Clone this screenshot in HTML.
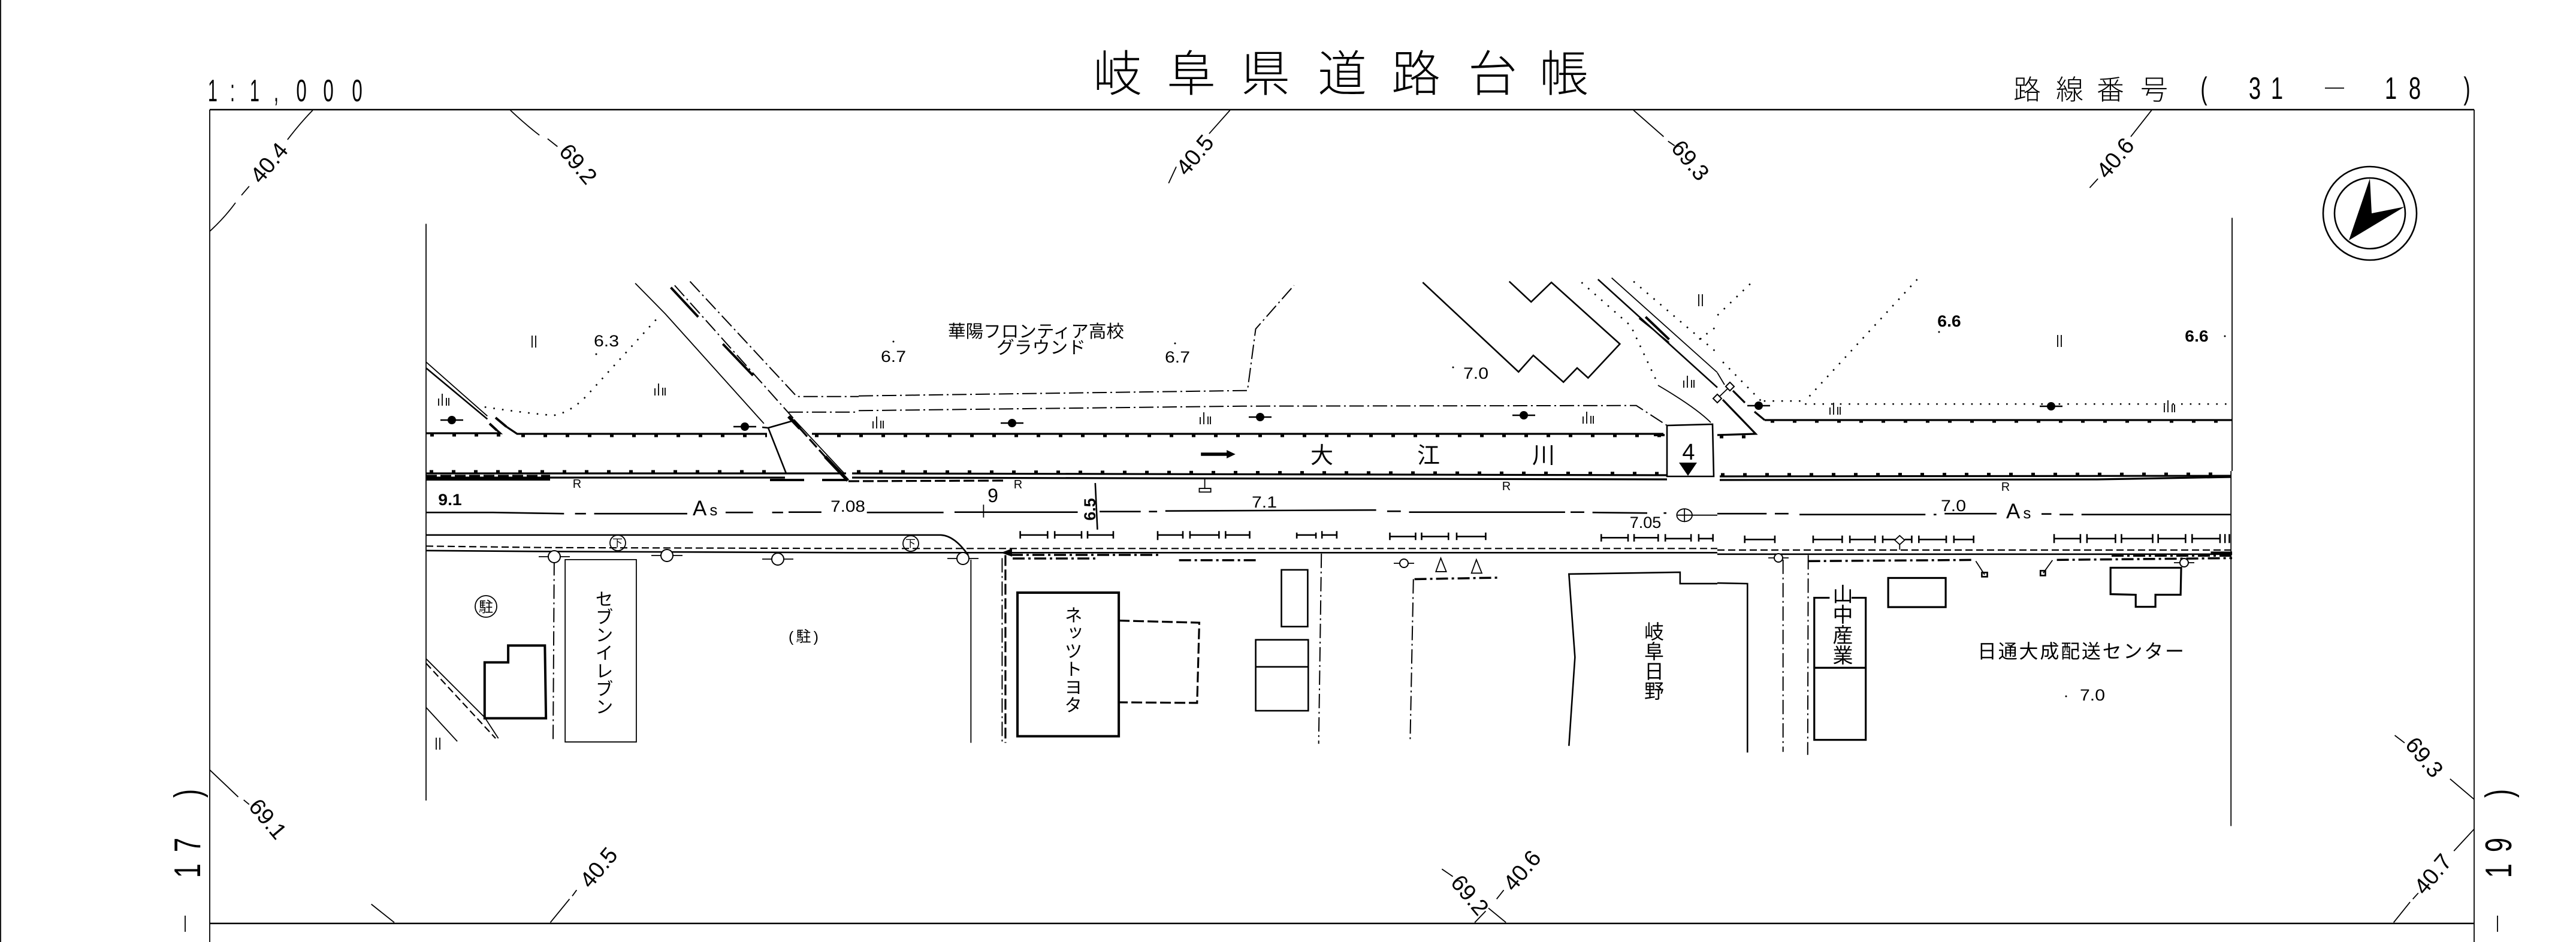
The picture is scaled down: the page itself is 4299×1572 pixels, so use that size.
<!DOCTYPE html>
<html><head><meta charset="utf-8"><title>岐阜県道路台帳</title>
<style>
html,body{margin:0;padding:0;background:#fff;width:4299px;height:1572px;overflow:hidden}
svg{display:block}
svg *{vector-effect:non-scaling-stroke}
.t{fill:none;stroke:#000;stroke-width:1.8}
.m{fill:none;stroke:#000;stroke-width:2.6}
.b{fill:none;stroke:#000;stroke-width:3.2}
.k{fill:none;stroke:#000;stroke-width:4}
.x{fill:none;stroke:#000;stroke-width:5.5}
.dd{fill:none;stroke:#000;stroke-width:2;stroke-dasharray:24 6 3 6}
.ddk{fill:none;stroke:#000;stroke-width:3.5;stroke-dasharray:20 6 4 6}
.da{fill:none;stroke:#000;stroke-width:2.2;stroke-dasharray:12 6}
.dak{fill:none;stroke:#000;stroke-width:3.2;stroke-dasharray:18 6}
.do{fill:none;stroke:#000;stroke-width:2.6;stroke-dasharray:2.6 12}
.tk{fill:none;stroke:#000;stroke-width:5;stroke-dasharray:6 31}
text{fill:#000;font-family:"Liberation Sans","Noto Sans CJK JP",sans-serif}
.cjk{font-family:"Liberation Sans","Noto Sans CJK JP",sans-serif;font-weight:300}
.nm{font-family:"Liberation Sans","Noto Sans CJK JP",sans-serif;font-weight:400}
.v{writing-mode:vertical-rl;font-family:"Liberation Sans","Noto Sans CJK JP",sans-serif}
</style></head><body>
<svg xmlns="http://www.w3.org/2000/svg" width="4299" height="1572" viewBox="0 0 4299 1572">
<defs>
<g id="tr"><circle r="7" fill="#000"/><path class="m" d="M-19 0H19"/></g>
<g id="gr"><path class="t" d="M-8 -3V9M-2 -11V9M5 -4V9M9 -4V9"/></g>
<g id="ii"><path class="t" d="M-3 -10V10M3 -10V10"/></g>
<g id="pl"><ellipse rx="10" ry="10" fill="#fff" stroke="#000" stroke-width="2"/><path class="t" d="M-26 0H-10M10 0H26"/></g>
<g id="pm"><ellipse rx="7" ry="7" fill="#fff" stroke="#000" stroke-width="2"/><path class="t" d="M-17 0H-7M7 0H17"/></g>
</defs>
<rect width="4299" height="1572" fill="#fff"/>

<!-- page edge and frame -->
<path class="t" d="M1 0V1572"/>
<path class="m" d="M350 183H4129"/>
<path class="t" d="M350 183V1572M4129 183V1572"/>
<path class="m" d="M350 1541H4129"/>

<!-- titles -->
<text class="cjk" font-size="82" y="152" x="1824 1947 2071 2199 2322 2450 2569">岐阜県道路台帳</text>
<text class="cjk" font-size="46" y="166" x="3360 3431 3499 3572">路線番号</text>
<g font-size="52" text-anchor="middle" font-weight="400">
<text transform="translate(355 169) scale(.55 1)">1</text>
<text transform="translate(388 169) scale(.55 1)">:</text>
<text transform="translate(425 169) scale(.55 1)">1</text>
<text transform="translate(461 169) scale(.55 1)">,</text>
<text transform="translate(503 169) scale(.6 1)">0</text>
<text transform="translate(548 169) scale(.6 1)">0</text>
<text transform="translate(596 169) scale(.6 1)">0</text>
<text transform="translate(3678 165) scale(.65 1)">(</text>
<text transform="translate(3763 165) scale(.7 1)">3</text>
<text transform="translate(3800 165) scale(.7 1)">1</text>
<text transform="translate(3990 165) scale(.7 1)">1</text>
<text transform="translate(4030 165) scale(.7 1)">8</text>
<text transform="translate(4117 165) scale(.65 1)">)</text>
</g>
<path class="t" d="M3880 147H3912"/>
<g font-size="62" text-anchor="middle">
<text transform="translate(334 1324) rotate(-90) scale(.7 1)">)</text>
<text transform="translate(334 1410) rotate(-90) scale(.7 1)">7</text>
<text transform="translate(334 1453) rotate(-90) scale(.7 1)">1</text>
<text transform="translate(4191 1324) rotate(-90) scale(.7 1)">)</text>
<text transform="translate(4191 1410) rotate(-90) scale(.7 1)">9</text>
<text transform="translate(4191 1453) rotate(-90) scale(.7 1)">1</text>
</g>
<path class="t" d="M309 1528V1555M4168 1528V1555"/>

<!-- contour labels -->
<g font-size="38" text-anchor="middle">
<text transform="translate(459 280) rotate(-50)">40.4</text>
<text transform="translate(955 282) rotate(50)">69.2</text>
<text transform="translate(2004 267) rotate(-50)">40.5</text>
<text transform="translate(2811 276) rotate(50)">69.3</text>
<text transform="translate(3540 272) rotate(-50)">40.6</text>
<text transform="translate(437 1375) rotate(50)">69.1</text>
<text transform="translate(1009 1456) rotate(-50)">40.5</text>
<text transform="translate(2443 1502) rotate(50)">69.2</text>
<text transform="translate(2550 1461) rotate(-50)">40.6</text>
<text transform="translate(4036 1272) rotate(50)">69.3</text>
<text transform="translate(4070 1467) rotate(-50)">40.7</text>
</g>

<!-- north symbol -->
<circle cx="3955" cy="356" r="78" class="m"/>
<circle cx="3955" cy="356" r="59" class="m"/>
<polygon fill="#000" points="3955,298 3958,356 4013,345 3920,401"/>

<!-- CROP A -->
<g transform="scale(.9139 .5013)">
<path class="t" d="M383 770Q410 725 430 675M441 650L455 620M525 465Q548 410 571 367"/>
<path class="t" d="M932 367Q960 415 985 450M1000 462L1018 488"/>
<path class="t" d="M778 745V1568"/>
<path class="t" d="M778 1205L890 1385"/>
<path class="m" d="M778 1225L890 1395"/>
<path class="do" d="M885 1355Q960 1375 1010 1383Q1040 1375 1070 1320L1100 1260L1150 1160L1205 1050"/>
<path class="t" d="M1160 943L1215 1045L1395 1410"/>
<path class="k" d="M1225 957L1275 1055M1320 1145L1375 1250"/>
<path class="dd" d="M1232 950L1450 1395"/>
<path class="dd" d="M1260 937L1455 1320H1568"/>
<path class="dd" d="M1440 1372H1568"/>
</g>

<!-- CROP B -->
<g transform="translate(1433 0) scale(.9139 .5013)">
<path class="t" d="M678 367L640 445M580 555L566 610"/>
<path class="t" d="M1415 367L1470 455M1478 470L1490 485"/>
<path class="dd" d="M0 1318L710 1300L725 1095L795 950"/>
<path class="dd" d="M0 1367L700 1352L1420 1350L1475 1415"/>
<path class="m" d="M1030 940L1205 1238L1232 1183L1287 1272L1312 1225L1332 1258L1390 1145L1265 940L1228 1005L1188 937"/>
<path class="do" d="M1320 940L1410 1085L1460 1280"/>
<path class="m" d="M1350 930L1568 1290"/>
<path class="t" d="M1375 925L1568 1240"/>
<path class="do" d="M1415 937L1568 1175M1535 1130L1568 1085"/>
<path class="k" d="M1437 1055L1480 1130"/>
<path class="t" d="M1425 1060L1480 1140"/>
<path class="x" d="M625 1512H680"/>
<polygon fill="#000" points="672,1498 688,1512 672,1526"/>
</g>

<!-- CROP C -->
<g transform="translate(2866 0) scale(.9139 .5013)">
<path class="t" d="M793 367L755 455M695 595L680 625"/>
<path class="t" d="M940 725V1568"/>
<path class="do" d="M365 930L160 1335M60 945L0 1050M10 1205L80 1335M85 1335H155M160 1345H940"/>
</g>

<!-- river banks & bridges, original coordinates -->
<g>
<path class="b" d="M711 723H835L817 707"/>
<path class="k" d="M817 707L829 718M827 697L845 712"/>
<path class="b" d="M845 712L863 724H1280M1355 724H2776"/>
<path class="b" d="M2945 701H3725"/>
<path class="tk" d="M718 726H835M870 727H1280M1360 727H2776"/>
<path class="tk" d="M2955 703H3725"/>
<!-- bridge 1 -->
<path class="m" d="M1272 713L1282 714L1324 702M1282 714L1312 790"/>
<path class="t" d="M1325 700L1409 790"/>
<path class="x" d="M1316 695L1335 715"/>
<path class="dak" d="M1335 715L1377 762"/>
<path class="x" d="M1377 762L1415 802"/>
<!-- lower bank -->
<path class="b" d="M711 790H1312M1312 790H1412"/>
<path class="b" d="M711 797H1310"/>
<path class="k" d="M711 800H918"/>
<path class="dak" d="M711 794H918"/>
<path class="k" d="M1285 801H1342M1372 801H1412"/>
<path class="tk" d="M717 787H1305"/>
<path class="b" d="M1422 790L2782 793M1422 797L2782 800"/>
<path class="tk" d="M1430 787L2782 790"/>
<path class="dak" d="M1416 803L1675 802"/>
<path class="b" d="M2870 795L3723 794"/>
<path class="b" d="M2870 801L3500 800L3723 796"/>
<path class="tk" d="M2872 792L3723 791"/>
<!-- box 4 -->
<path class="m" d="M2782 710L2858 708L2860 795H2782Z"/>
<path class="t" d="M2767 643Q2830 680 2855 705"/>
<path class="b" d="M2866 726L2930 724L2875 667"/>
<path class="tk" d="M2870 729H2930"/>
<path class="b" d="M2928 687L2945 701"/>
<path class="b" d="M2892 652L2912 672"/>
<path class="t" d="M2866 665L2887 645M2866 622L2878 642"/>
<rect x="2861" y="660" width="10" height="10" fill="#fff" stroke="#000" stroke-width="2" transform="rotate(45 2866 665)"/>
<rect x="2882" y="640" width="10" height="10" fill="#fff" stroke="#000" stroke-width="2" transform="rotate(45 2887 645)"/>
<path class="k" d="M2760 726H2778"/>
</g>

<!-- CROP D -->
<g transform="translate(0 786) scale(.9139 .5013)">
<path class="t" d="M778 0V1097"/>
<path class="m" d="M778 138H900L1030 142M1050 142H1070M1085 142H1255M1325 138H1375M1410 138H1430M1440 137H1500"/>
<path class="m" d="M778 213H1568"/>
<path class="da" d="M778 250L1000 255L1568 258"/>
<path class="m" d="M778 265L1000 268L1568 272"/>
<path class="dd" d="M1012 300L1010 895"/>
<rect x="1032" y="295" width="130" height="607" class="t"/>
<path class="k" d="M885 637H928V581H995L997 823H885Z"/>
<path class="t" d="M778 625L885 820L910 890M778 787L835 900"/>
<path class="da" d="M778 640L905 890"/>
<path class="t" d="M383 995L435 1085M445 1095L455 1110M678 1442L720 1503"/>
<path class="t" d="M1005 1503L1040 1425M1045 1415L1053 1395"/>
</g>

<!-- CROP E -->
<g transform="translate(1433 786) scale(.9139 .5013)">
<path class="m" d="M15 138H155M175 137H400M440 135H515M530 135H545M560 133L945 130M965 134H990M1005 137H1290M1300 137H1325M1340 138L1440 140M1470 140H1475"/>
<path class="t" d="M228 112V155"/>
<path class="m" d="M432 40L436 195"/>
<path class="t" d="M632 25V60"/>
<rect x="622" y="58" width="21" height="12" class="t"/>
<ellipse cx="1508" cy="147" rx="14" ry="21" class="t"/>
<path class="t" d="M1508 125V170M1495 147H1568"/>
<path class="m" d="M0 213H150Q175 215 200 280"/>
<path class="da" d="M0 258H1568"/>
<path class="m" d="M0 272H1568"/>
<path class="t" d="M205 295V905"/>
<path class="dd" d="M262 290V905"/>
<path class="dak" d="M268 280V905"/>
<polygon fill="#000" points="260,272 280,258 280,285"/>
<rect x="290" y="405" width="185" height="478" class="k"/>
<path class="dak" d="M475 498L622 505L618 772L475 770"/>
<rect x="772" y="329" width="48" height="189" class="m"/>
<rect x="725" y="562" width="96" height="236" class="m"/>
<path class="m" d="M725 652H821"/>
<path class="dd" d="M845 275L840 908M1013 360L1007 903"/>
<path class="ddk" d="M1015 360L1170 355"/>
<path class="ddk" d="M585 297H730"/>
<path class="t" d="M1063 290L1054 335H1073ZM1128 295L1119 340H1138Z"/>
<path class="m" d="M1297 915L1308 620L1297 343L1500 337V375H1568"/>
<path class="m" d="M295 200V225M295 213H345V200M345 200V225M358 200V225M358 213H407V225M407 200V225M418 200V225M418 213H465M465 200V225M546 200V230M546 213H592M592 200V225M605 200V225M605 213H658M658 200V225M670 200V225M670 213H714M714 200V225M800 205V225M800 213H835M835 205V225M846 200V225M846 213H873M873 200V225M970 205V230M970 218H1017M1017 205V230M1028 205V230M1028 218H1077M1077 205V230M1092 205V230M1092 218H1145M1145 205V230M1356 210V235M1356 222H1405M1405 210V235M1416 210V235M1416 222H1460M1460 210V235M1473 210V235M1473 225H1520M1520 210V235M1534 210V235M1534 225H1560M1560 210V235"/>
<path class="t" d="M1065 1325L1085 1350M1150 1455L1182 1503M1125 1503L1145 1465M1165 1425L1178 1395"/>
</g>
<!-- road detail rows near junction -->
<path class="ddk" d="M1687 926H1937"/>
<path class="ddk" d="M1690 932H1830"/>

<!-- CROP F -->
<g transform="translate(2866 786) scale(.9139 .5013)">
<path class="t" d="M938 0V1182"/>
<path class="m" d="M0 142H90M105 142H130M150 145H380M395 145H400M415 142H510M592 143H610M625 145H650M665 145H938"/>
<path class="da" d="M0 263H940"/>
<path class="m" d="M0 277H940"/>
<path class="k" d="M901 272H940"/>
<path class="ddk" d="M720 282H940"/>
<path class="m" d="M50 215V240M50 228H105M105 215V240M175 215V240M175 228H228M228 215V240M242 215V240M242 228H288M288 215V240M302 215V240M302 228H325M342 228H355M355 215V240M368 215V240M368 228H418M418 215V240M432 215V240M432 228H468M468 215V240M615 210V240M615 225H663M663 210V240M675 210V240M675 225H727M727 210V240M738 210V240M738 225H795M795 210V240M805 210V240M805 225H855M855 210V240M867 210V240M867 225H918M918 210V240M927 210V240M935 210V240"/>
<path class="t" d="M333 215L342 230L333 245L324 230ZM333 245V262"/>
<path class="dd" d="M120 295V935M166 280L165 945"/>
<path class="ddk" d="M166 300L470 296"/>
<path class="t" d="M472 300L488 345M612 297L595 340"/>
<rect x="483" y="338" width="10" height="14" class="m"/>
<rect x="590" y="332" width="9" height="16" class="m"/>
<path class="ddk" d="M620 296L940 290"/>
<path class="b" d="M177 655V422H205M245 422H271V895H177V655H271"/>
<path class="b" d="M312 356H417V453H312Z"/>
<path class="b" d="M718 322H847L846 412H800V452H764V412L718 410Z"/>
<path class="m" d="M0 373L55 375V937"/>
<path class="t" d="M1237 880L1255 905M1338 1025L1382 1093M1382 1192L1345 1265M1235 1503L1265 1435M1270 1425L1280 1405"/>
</g>

<!-- trees, plants, poles -->
<use href="#tr" x="754" y="701"/><use href="#tr" x="1243" y="712"/><use href="#tr" x="1689" y="706"/><use href="#tr" x="2103" y="696"/><use href="#tr" x="2543" y="693"/><use href="#tr" x="2935" y="677"/><use href="#tr" x="3423" y="678"/>
<use href="#gr" x="740" y="668"/><use href="#gr" x="1101" y="651"/><use href="#gr" x="1465" y="706"/><use href="#gr" x="2011" y="699"/><use href="#gr" x="2650" y="698"/><use href="#gr" x="2818" y="638"/><use href="#gr" x="3062" y="683"/><use href="#gr" x="3620" y="679"/>
<use href="#ii" x="891" y="570"/><use href="#ii" x="2838" y="501"/><use href="#ii" x="3437" y="569"/><use href="#ii" x="731" y="1241"/>
<use href="#pl" x="925" y="929"/><use href="#pl" x="1113" y="927"/><use href="#pl" x="1298" y="933"/><use href="#pl" x="1607" y="932"/>
<use href="#pm" x="2343" y="940"/><use href="#pm" x="2968" y="931"/><use href="#pm" x="3645" y="939"/>
<circle cx="1031" cy="906" r="13" class="t"/><circle cx="1520" cy="907" r="13" class="t"/>
<circle cx="811" cy="1012" r="18" class="t"/>

<!-- spot heights & dots -->
<g fill="#000">
<circle cx="995" cy="591" r="1.5"/><circle cx="1491" cy="570" r="1.5"/><circle cx="1961" cy="573" r="1.5"/><circle cx="2425" cy="613" r="1.5"/><circle cx="3236" cy="554" r="1.5"/><circle cx="3713" cy="561" r="1.5"/><circle cx="3448" cy="1162" r="1.5"/>
</g>
<g font-size="27" text-anchor="middle">
<text transform="translate(1012 578) scale(1.12 1)">6.3</text>
<text transform="translate(1491 604) scale(1.12 1)">6.7</text>
<text transform="translate(1965 605) scale(1.12 1)">6.7</text>
<text transform="translate(2463 632) scale(1.12 1)">7.0</text>
<text transform="translate(3253 545) scale(1.05 1)" font-weight="700">6.6</text>
<text transform="translate(3666 570) scale(1.05 1)" font-weight="700">6.6</text>
<text transform="translate(751 843) scale(1.05 1)" font-weight="700">9.1</text>
<text transform="translate(1415 854) scale(1.1 1)">7.08</text>
<text transform="translate(2110 847) scale(1.12 1)">7.1</text>
<text transform="translate(2746 881) scale(1 1)">7.05</text>
<text transform="translate(3260 853) scale(1.12 1)">7.0</text>
<text transform="translate(3492 1169) scale(1.12 1)">7.0</text>
<text transform="translate(1828 850) rotate(-90)" font-weight="700">6.5</text>
</g>
<text x="1657" y="838" font-size="32" text-anchor="middle">9</text>
<text x="1156" y="860" font-size="35" letter-spacing="5">A<tspan font-size="26">s</tspan></text>
<text x="3348" y="865" font-size="35" letter-spacing="5">A<tspan font-size="26">s</tspan></text>
<g font-size="20" text-anchor="middle">
<text x="963" y="814">R</text><text x="1699" y="815">R</text><text x="2514" y="818">R</text><text x="3347" y="819">R</text>
</g>

<!-- place names -->
<text class="nm" font-size="29" x="1582" y="563" textLength="294" lengthAdjust="spacingAndGlyphs">華陽フロンティア高校</text>
<text class="nm" font-size="29" x="1663" y="590" textLength="149" lengthAdjust="spacingAndGlyphs">グラウンド</text>
<text class="nm" font-size="32" x="3300" y="1098" textLength="345" lengthAdjust="spacing">日通大成配送センター</text>
<g class="nm" font-size="38"><text x="2187" y="773">大</text><text x="2365" y="773">江</text><text x="2557" y="773">川</text></g>
<text x="2818" y="767" font-size="38" text-anchor="middle">4</text>
<polygon fill="#000" points="2802,772 2832,772 2817,794"/>
<text class="nm" font-size="17" x="1022" y="912">下</text>
<text class="nm" font-size="17" x="1511" y="913">下</text>
<text class="nm" font-size="24" x="799" y="1021" font-weight="700">駐</text>
<text class="nm" font-size="25" x="1316" y="1071" textLength="50">(駐)</text>

<g>
<text class="v" x="1005" y="984" font-size="30">セブンイレブン</text>
<text class="v" x="1788" y="1011" font-size="30">ネッツトヨタ</text>
<text class="v" x="2758" y="1037" font-size="33">岐阜日野</text>
<text class="v" x="3072" y="974" font-size="34">山中産業</text>
</g>
</svg>
</body></html>
